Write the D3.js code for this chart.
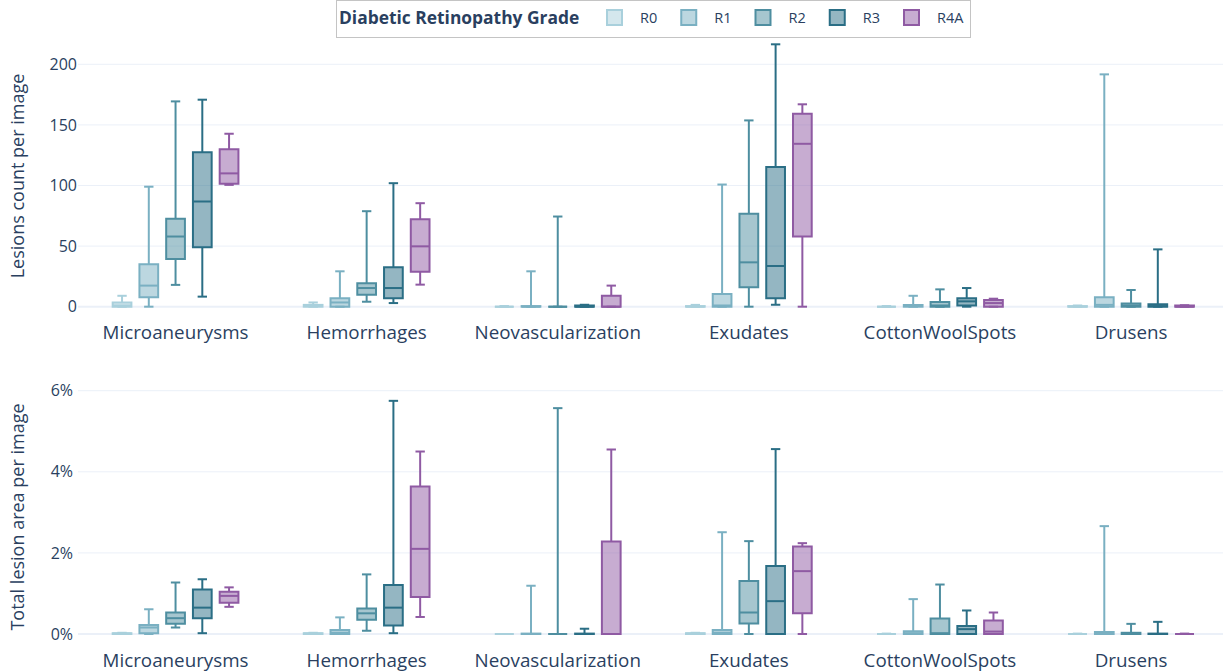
<!DOCTYPE html>
<html>
<head>
<meta charset="utf-8">
<script src="https://cdn.jsdelivr.net/npm/d3@7"></script>
<style>
  body { margin: 0; background: #fff; }
  svg text { font-family: "Open Sans", "DejaVu Sans", sans-serif; fill: #2a3f5f; }
</style>
</head>
<body>
<svg id="chart"></svg>
<script>
// Canvas size
const width = 1223, height = 672;

// Categories and grades
const lesions = ["Microaneurysms", "Hemorrhages", "Neovascularization", "Exudates", "CottonWoolSpots", "Drusens"];
const grades = ["R0", "R1", "R2", "R3", "R4A"];
const gradeColors = ["#a9d0dc", "#7ab0c2", "#4e8ea0", "#2a6e85", "#8f5aa3"];

// Lesion count per image: [min, q1, median, q3, max] for each lesion type
const countR0 = [[0, 0, 1, 3.5, 9], [0, 0, 0.5, 1.5, 3.5], [0, 0, 0, 0, 0.5], [0, 0, 0, 0.5, 1.5], [0, 0, 0, 0, 0.5], [0, 0, 0, 0.5, 1]];
const countR1 = [[0, 7.7, 17.4, 35, 99], [0, 0, 3.5, 6.9, 29.2], [0, 0, 0, 0.5, 29.2], [0, 0, 1, 10.5, 100.8], [0, 0, 0.5, 1.4, 9], [0, 0, 1.5, 7.7, 191.7]];
const countR2 = [[18, 39.4, 57.9, 72.5, 169.4], [4.1, 9.9, 15.4, 19.3, 78.8], [0, 0, 0, 0, 74.4], [0, 16, 36.6, 76.6, 153.7], [0, 0, 1, 3.9, 14.3], [0, 0, 1, 2.7, 13.8]];
const countR3 = [[8.3, 49, 86.8, 127.5, 170.8], [3, 6.9, 15.4, 32.5, 101.9], [0, 0, 0, 1, 1.6], [1.6, 6.9, 33.6, 115.2, 216.5], [0, 1, 4.4, 6.9, 15.4], [0, 0, 0.5, 2, 47.3]];
const countR4A = [[100.5, 101.4, 110, 130, 142.7], [18.2, 28.9, 49.8, 72.2, 85.4], [0, 0, 0, 9, 17.4], [0, 57.9, 134.4, 159.2, 167], [0, 0, 3, 5.5, 6.6], [0, 0, 0, 1, 1.2]];

// Total lesion area per image in percent: [min, q1, median, q3, max]
const areaR0 = [[0, 0, 0.01, 0.02, 0.03], [0, 0, 0.01, 0.02, 0.03], [0, 0, 0, 0, 0], [0, 0, 0.01, 0.02, 0.03], [0, 0, 0, 0, 0.01], [0, 0, 0, 0, 0.01]];
const areaR1 = [[0, 0.02, 0.16, 0.22, 0.61], [0, 0, 0.03, 0.1, 0.41], [0, 0, 0, 0.01, 1.19], [0, 0, 0.03, 0.1, 2.51], [0, 0, 0.02, 0.07, 0.86], [0, 0, 0.01, 0.05, 2.66]];
const areaR2 = [[0.16, 0.25, 0.39, 0.53, 1.27], [0.08, 0.35, 0.51, 0.63, 1.47], [0, 0, 0, 0, 5.57], [0, 0.26, 0.53, 1.31, 2.29], [0, 0, 0.02, 0.38, 1.22], [0, 0, 0.01, 0.03, 0.25]];
const areaR3 = [[0.02, 0.39, 0.65, 1.1, 1.35], [0.02, 0.21, 0.65, 1.21, 5.75], [0, 0, 0, 0.01, 0.13], [0, 0, 0.81, 1.68, 4.56], [0, 0, 0.12, 0.2, 0.58], [0, 0, 0, 0.01, 0.3]];
const areaR4A = [[0.67, 0.77, 0.94, 1.04, 1.15], [0.42, 0.91, 2.1, 3.64, 4.5], [0, 0, 0, 2.28, 4.55], [0, 0.51, 1.55, 2.16, 2.24], [0, 0, 0.06, 0.33, 0.53], [0, 0, 0, 0, 0.01]];

// Tick values
const countTicks = [0, 50, 100, 150, 200];
const areaTicks = [0, 2, 4, 6];

const svg = d3.select("#chart")
    .attr("width", width)
    .attr("height", height);

// Shared x scale: one band per lesion, one sub band per grade
const x = d3.scaleBand()
    .domain(lesions)
    .range([80, 1226.6]);

const xSub = d3.scaleBand()
    .domain(grades)
    .range([0, x.bandwidth()])
    .paddingInner(0.3)
    .paddingOuter(1.2214);

// Function to draw one box panel
function drawPanel(opts) {
    const { y, ticks, tickFormat, series, title, titleY, labelY, tickEnd } = opts;
    const g = svg.append("g");

    // Gridlines
    g.selectAll("line.grid")
        .data(ticks)
        .enter().append("line")
        .attr("x1", 78)
        .attr("x2", width)
        .attr("y1", d => y(d))
        .attr("y2", d => y(d))
        .attr("stroke", "#ebf0f8")
        .attr("stroke-width", d => d === 0 ? 2 : 1);

    // Y tick labels
    g.selectAll("text.ytick")
        .data(ticks)
        .enter().append("text")
        .attr("x", tickEnd)
        .attr("y", d => y(d))
        .attr("dy", "0.35em")
        .attr("text-anchor", "end")
        .style("font-size", "16px")
        .text(tickFormat);

    // X category labels
    g.selectAll("text.xtick")
        .data(lesions)
        .enter().append("text")
        .attr("x", d => x(d) + x.bandwidth() / 2)
        .attr("y", labelY)
        .attr("text-anchor", "middle")
        .style("font-size", "18.8px")
        .text(d => d);

    // Axis title
    g.append("text")
        .attr("transform", `translate(24, ${titleY}) rotate(-90)`)
        .attr("text-anchor", "middle")
        .style("font-size", "18px")
        .text(title);

    // Boxes, one group per grade
    grades.forEach((grade, gi) => {
        const color = gradeColors[gi];
        const bw = xSub.bandwidth();
        const boxes = g.selectAll(null)
            .data(series[gi].map((s, li) => ({ lesion: lesions[li], s })))
            .enter().append("g")
            .attr("transform", d => `translate(${x(d.lesion) + xSub(grade) + bw / 2}, 0)`);

        // Whiskers
        boxes.append("line")
            .attr("y1", d => y(d.s[0])).attr("y2", d => y(d.s[1]))
            .attr("stroke", color).attr("stroke-width", 2);
        boxes.append("line")
            .attr("y1", d => y(d.s[3])).attr("y2", d => y(d.s[4]))
            .attr("stroke", color).attr("stroke-width", 2);

        // Whisker caps
        [0, 4].forEach(k => {
            boxes.append("line")
                .attr("x1", -bw / 4).attr("x2", bw / 4)
                .attr("y1", d => y(d.s[k])).attr("y2", d => y(d.s[k]))
                .attr("stroke", color).attr("stroke-width", 2);
        });

        // Box body as a path so that flat boxes still show
        boxes.append("path")
            .attr("d", d => `M${-bw / 2},${y(d.s[3])}H${bw / 2}V${y(d.s[1])}H${-bw / 2}Z`)
            .attr("fill", color)
            .attr("fill-opacity", 0.5)
            .attr("stroke", color)
            .attr("stroke-width", 2);

        // Median
        boxes.append("line")
            .attr("x1", -bw / 2).attr("x2", bw / 2)
            .attr("y1", d => y(d.s[2])).attr("y2", d => y(d.s[2]))
            .attr("stroke", color).attr("stroke-width", 2);
    });
}

// Top panel: lesion counts
drawPanel({
    y: d3.scaleLinear().domain([0, 200]).range([306.7, 64.3]),
    ticks: countTicks,
    tickFormat: d => d,
    series: [countR0, countR1, countR2, countR3, countR4A],
    title: "Lesions count per image",
    titleY: 176,
    labelY: 339,
    tickEnd: 77
});

// Bottom panel: lesion area
drawPanel({
    y: d3.scaleLinear().domain([0, 6]).range([634, 390.7]),
    ticks: areaTicks,
    tickFormat: d => d + "%",
    series: [areaR0, areaR1, areaR2, areaR3, areaR4A],
    title: "Total lesion area per image",
    titleY: 517,
    labelY: 667,
    tickEnd: 73
});

// Legend
const legend = svg.append("g");
legend.append("rect")
    .attr("x", 336.5).attr("y", 0.5)
    .attr("width", 634).attr("height", 37)
    .attr("fill", "#fff")
    .attr("stroke", "#c4c4c4")
    .attr("stroke-width", 1);

legend.append("text")
    .attr("x", 339).attr("y", 24)
    .style("font-size", "17.4px")
    .style("font-weight", "bold")
    .text("Diabetic Retinopathy Grade");

// Legend items laid out on a fixed step
const legendX = d3.scalePoint()
    .domain(grades)
    .range([606, 903]);

grades.forEach((grade, gi) => {
    const lx = legendX(grade);
    legend.append("rect")
        .attr("x", lx + 1).attr("y", 10)
        .attr("width", 15).attr("height", 15)
        .attr("fill", gradeColors[gi])
        .attr("fill-opacity", 0.5)
        .attr("stroke", gradeColors[gi])
        .attr("stroke-width", 2);
    legend.append("text")
        .attr("x", lx + 34).attr("y", 23)
        .style("font-size", "14.5px")
        .text(grade);
});
</script>
</body>
</html>
